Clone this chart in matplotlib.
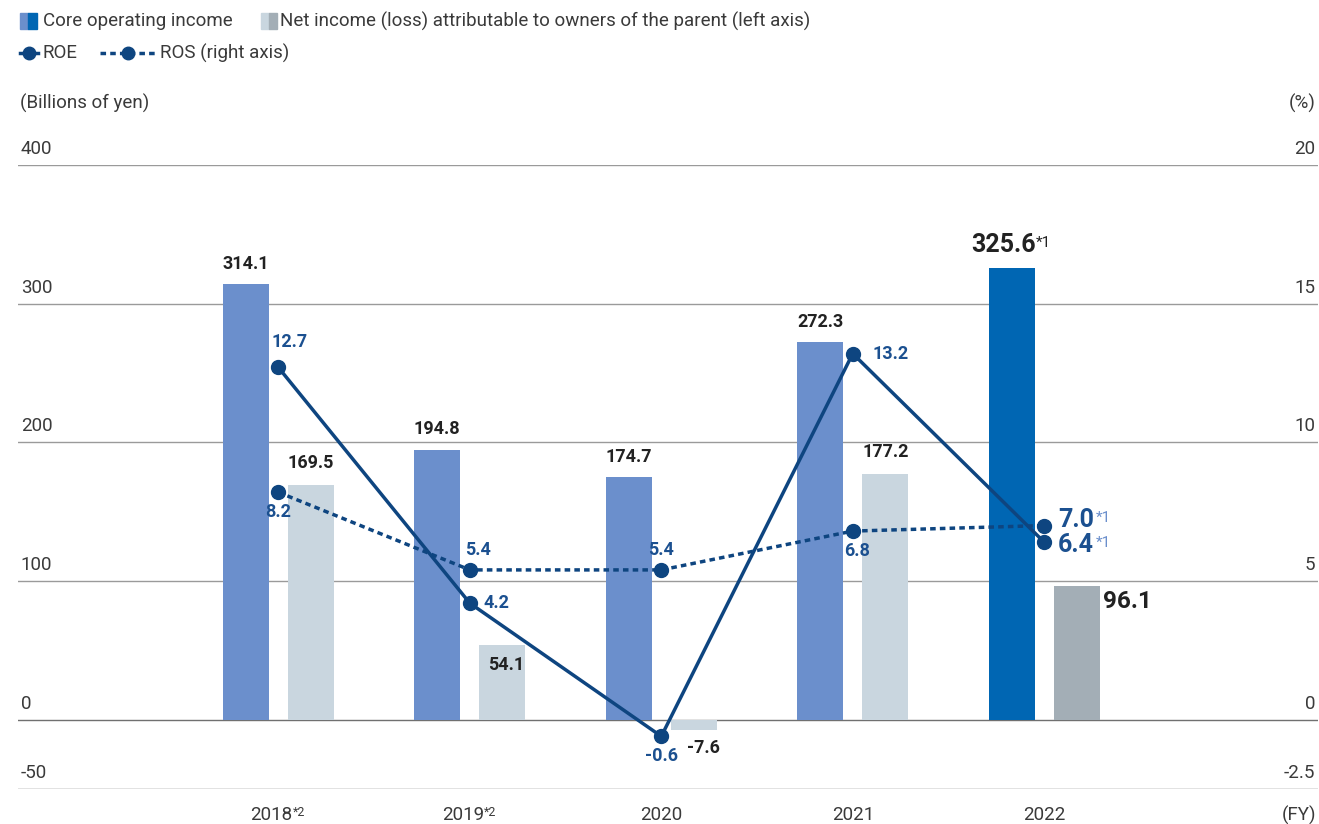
import matplotlib.pyplot as plt
from matplotlib.lines import Line2D
from matplotlib.patches import Rectangle

plt.rcParams['font.family'] = ['Roboto', 'DejaVu Sans']

# data
years = ['2018', '2019', '2020', '2021', '2022']
year_sup = ['*2', '*2', '', '', '']
core = [314.1, 194.8, 174.7, 272.3, 325.6]
net = [169.5, 54.1, -7.6, 177.2, 96.1]
roe = [12.7, 4.2, -0.6, 13.2, 6.4]
ros = [8.2, 5.4, 5.4, 6.8, 7.0]

core_colors = ['#6b8fcc'] * 4 + ['#0066b3']
net_colors = ['#c9d6df'] * 4 + ['#a3aeb6']
navy = '#0e4580'
label_navy = '#1b5090'
sup_blue = '#6b8fcc'
dark = '#222222'
grey_txt = '#3a3a3a'

W, H = 1319, 824
fig = plt.figure(figsize=(W / 100, H / 100), dpi=100)

def fx(x):
    return x / W

def fy(y):
    return 1 - y / H

ax = fig.add_axes([fx(18), fy(789), fx(1318) - fx(18), fy(165) - fy(789)])
ax.set_ylim(-50, 400)
ax.set_xlim(-1.36, 5.43)
ax2 = ax.twinx()
ax2.set_ylim(-2.5, 20)

x = list(range(len(years)))
bw = 0.24
off = 0.17

# gridlines and tick labels
for v in [400, 300, 200, 100, 0, -50]:
    ax.axhline(v, color='#9a9a9a' if v not in (0, -50) else '#707070', lw=1, zorder=1)
    ax.annotate(str(v), xy=(0, v), xycoords=('axes fraction', 'data'),
                xytext=(2, 5), textcoords='offset points', ha='left', va='bottom',
                fontsize=13.5, color=grey_txt)
for v in [20, 15, 10, 5, 0, -2.5]:
    ax2.annotate(f'{v:g}', xy=(1, v), xycoords=('axes fraction', 'data'),
                 xytext=(-2, 5), textcoords='offset points', ha='right', va='bottom',
                 fontsize=13.5, color=grey_txt)

for a in (ax, ax2):
    for s in a.spines.values():
        s.set_visible(False)
    a.set_xticks([])
    a.set_yticks([])

# bars
ax.bar([i - off for i in x], core, width=bw, color=core_colors, zorder=2)
ax.bar([i + off for i in x], net, width=bw, color=net_colors, zorder=2)

# lines
ax2.plot(x, roe, color=navy, lw=2.5, marker='o', ms=10, zorder=4)
ax2.plot(x, ros, color=navy, lw=2.5, ls=(0, (1.6, 1.2)), marker='o', ms=10, zorder=4)

# bar labels
for i, v in enumerate(core):
    big = i == 4
    t = ax.annotate(f'{v}', xy=(i - off, v), xytext=(-6 if big else 0, 8), textcoords='offset points',
                    ha='center', va='bottom', fontsize=18 if big else 13,
                    fontweight='bold', color=dark, zorder=5)
    if big:
        ax.annotate('*1', xy=(1, 1), xycoords=t, xytext=(0, -2), textcoords='offset points',
                    ha='left', va='top', fontsize=11, color=dark)

net_pos = [(0, 9, 'center', 'bottom'), (3, -8, 'center', 'top'), (7, -14, 'center', 'top'),
           (0, 9, 'center', 'bottom'), (2, -11, 'left', 'center')]
for i, v in enumerate(net):
    dx, dy, ha, va = net_pos[i]
    xx = i + off + (bw / 2 if i == 4 else 0)
    ax.annotate(f'{v}', xy=(xx, max(v, 0)), xytext=(dx, dy), textcoords='offset points',
                ha=ha, va=va, fontsize=17.5 if i == 4 else 13,
                fontweight='bold', color=dark, zorder=5)

# line labels
roe_pos = [(-5, 12, 'left', 'bottom'), (10, 0, 'left', 'center'), (0, -8, 'center', 'top'),
           (14, 0, 'left', 'center'), (10, -2, 'left', 'center')]
ros_pos = [(0, -8, 'center', 'top'), (6, 8, 'center', 'bottom'), (0, 8, 'center', 'bottom'),
           (3, -8, 'center', 'top'), (10, 4, 'left', 'center')]
for vals, pos in ((roe, roe_pos), (ros, ros_pos)):
    for i, v in enumerate(vals):
        dx, dy, ha, va = pos[i]
        big = i == 4
        t = ax2.annotate(f'{v}', xy=(i, v), xytext=(dx, dy), textcoords='offset points',
                         ha=ha, va=va, fontsize=18 if big else 13, fontweight='bold',
                         color=label_navy, zorder=6)
        if big:
            ax2.annotate('*1', xy=(1, 1), xycoords=t, xytext=(1, -2), textcoords='offset points',
                         ha='left', va='top', fontsize=11, color=sup_blue)

# x labels
for i, (yr, sp) in enumerate(zip(years, year_sup)):
    t = ax.annotate(yr, xy=(i, 0), xycoords=ax.get_xaxis_transform(),
                    xytext=(-5 if sp else 0, -19), textcoords='offset points',
                    ha='center', va='center', fontsize=13.5, color=grey_txt)
    if sp:
        ax.annotate(sp, xy=(1, 1), xycoords=t, xytext=(0, 0), textcoords='offset points',
                    ha='left', va='top', fontsize=9, color=grey_txt)

fig.text(fx(1316), fy(815), '(FY)', ha='right', va='center', fontsize=13.5, color=grey_txt)
fig.text(fx(20), fy(103), '(Billions of yen)', ha='left', va='center', fontsize=13.5, color=grey_txt)
fig.text(fx(1316), fy(103), '(%)', ha='right', va='center', fontsize=13.5, color=grey_txt)

# legend
def rect(x0, y0, w, h, c):
    fig.add_artist(Rectangle((fx(x0), fy(y0 + h)), w / W, h / H, color=c, transform=fig.transFigure))

rect(20, 13, 8, 16, '#6b8fcc')
rect(28, 13, 9, 16, '#0066b3')
fig.text(fx(43), fy(21), 'Core operating income', ha='left', va='center', fontsize=13.5, color=grey_txt)
rect(261, 13, 8, 16, '#c9d6df')
rect(269, 13, 8, 16, '#a3aeb6')
fig.text(fx(280), fy(21), 'Net income (loss) attributable to owners of the parent (left axis)',
         ha='left', va='center', fontsize=13.5, color=grey_txt)

fig.add_artist(Line2D([fx(20), fx(38)], [fy(53), fy(53)], color=navy, lw=2.5, transform=fig.transFigure))
fig.add_artist(Line2D([fx(29)], [fy(53)], color=navy, marker='o', ms=9, transform=fig.transFigure))
fig.text(fx(42), fy(53), 'ROE', ha='left', va='center', fontsize=13.5, color=grey_txt)
fig.add_artist(Line2D([fx(100), fx(156)], [fy(53), fy(53)], color=navy, lw=2.5, ls=(0, (1.6, 1.2)),
                      transform=fig.transFigure))
fig.add_artist(Line2D([fx(128)], [fy(53)], color=navy, marker='o', ms=9, transform=fig.transFigure))
fig.text(fx(160), fy(53), 'ROS (right axis)', ha='left', va='center', fontsize=13.5, color=grey_txt)

fig.savefig('out.png', dpi=100)
